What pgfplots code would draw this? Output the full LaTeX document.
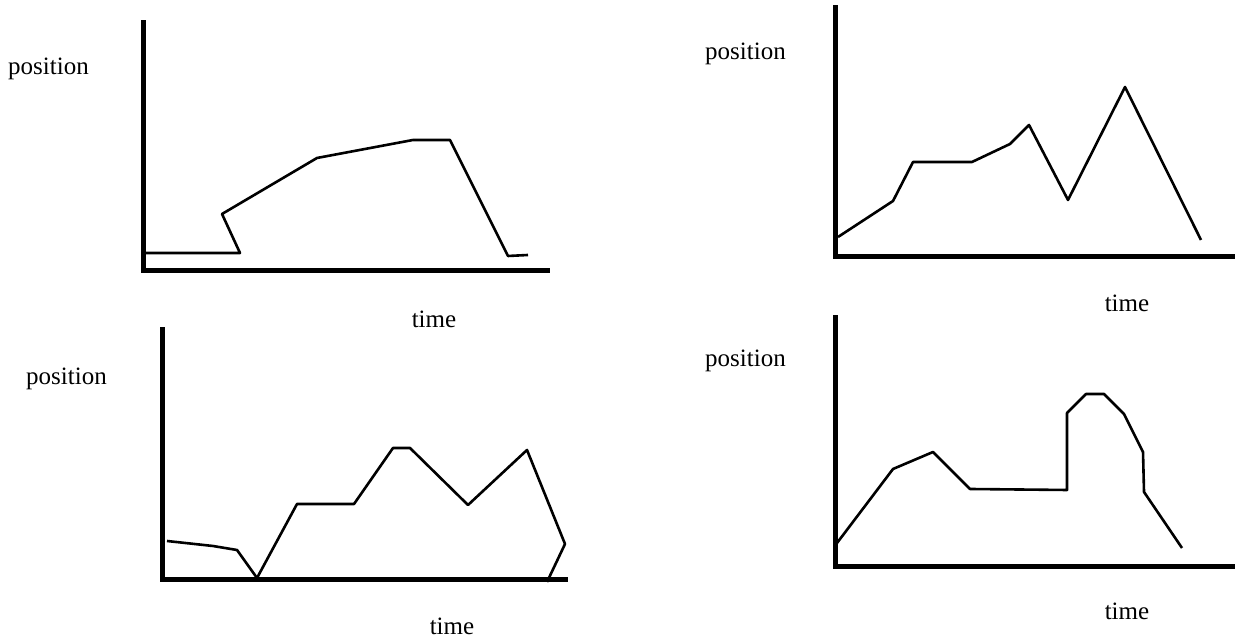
\documentclass[border=0pt]{standalone}
\usepackage{pgfplots}
\pgfplotsset{compat=1.18}
\usepackage{fontspec}
\setmainfont{Liberation Serif}
\pgfplotsset{
  panel/.style={
    anchor=south west, scale only axis,
    axis x line=bottom, axis y line=left,
    axis line style={-, line width=5bp, line cap=rect},
    xtick=\empty, ytick=\empty, clip=false,
  },
  curve/.style={black, line width=2.6bp, line join=round, mark=none},
}
\begin{document}
\begin{tikzpicture}[x=1bp,y=1bp]
\useasboundingbox (0,0) rectangle (1235,642);
\fill[white] (0,0) rectangle (1235,642);
% Panel 1
\begin{axis}[panel, at={(143bp,371bp)}, width=404bp, height=248bp,
  xmin=143, xmax=547, ymin=371, ymax=619]
\addplot[curve] coordinates {(145,389) (240,389) (222,428) (317,484) (413,502) (450,502) (508,386) (528,387)};
\end{axis}
% Panel 2
\begin{axis}[panel, at={(835bp,385bp)}, width=400bp, height=249bp,
  xmin=835, xmax=1235, ymin=385, ymax=634]
\addplot[curve] coordinates {(838,405) (893,441) (913,480) (972,480) (1010,498) (1029,517) (1068,442) (1125,555) (1201,402)};
\end{axis}
% Panel 3
\begin{axis}[panel, at={(162bp,62bp)}, width=403bp, height=250bp,
  xmin=162, xmax=565, ymin=62, ymax=312]
\addplot[curve] coordinates {(167,101) (213,96) (237,92) (257,64) (297,138) (354,138) (393,194) (410,194) (468,137) (527,192) (565,98) (547,60)};
\end{axis}
% Panel 4
\begin{axis}[panel, at={(835bp,75bp)}, width=400bp, height=249bp,
  xmin=835, xmax=1235, ymin=75, ymax=324]
\addplot[curve] coordinates {(837,99) (893,173) (933,190) (970,153) (1067,152) (1067,229) (1086,248) (1104,248) (1124,228) (1143,190) (1144,150) (1182,94)};
\end{axis}
\begin{scope}[every node/.style={inner sep=0pt, font=\fontsize{25bp}{30bp}\selectfont}]
\node[anchor=base west] at (8,567) {position};
\node[anchor=base west] at (705,582) {position};
\node[anchor=base west] at (26,257) {position};
\node[anchor=base west] at (705,275) {position};
\node[anchor=base] at (434,314) {time};
\node[anchor=base] at (1127,330) {time};
\node[anchor=base] at (452,7) {time};
\node[anchor=base] at (1127,22) {time};
\end{scope}
\end{tikzpicture}
\end{document}
